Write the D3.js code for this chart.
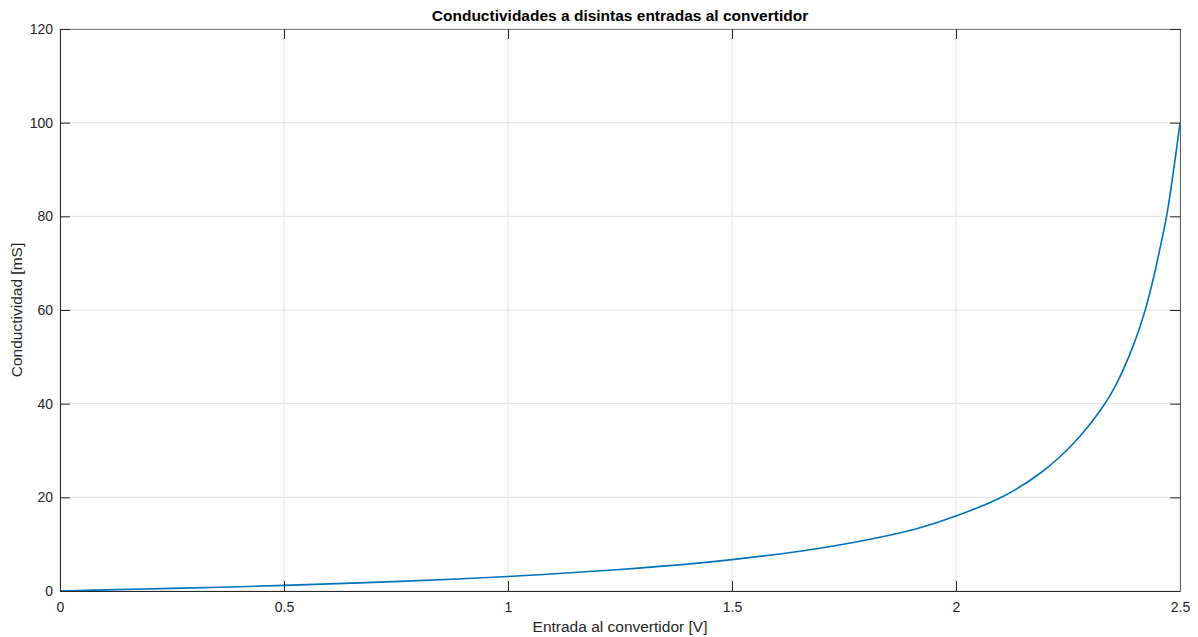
<!DOCTYPE html>
<html>
<head>
<meta charset="utf-8">
<script src="https://cdn.jsdelivr.net/npm/d3@7"></script>
<style>
  html, body { margin: 0; padding: 0; background: #fff; }
  svg { display: block; font-family: "Liberation Sans", Arial, Helvetica, sans-serif; }
</style>
</head>
<body>
<svg id="chart" width="1198" height="637"></svg>
<script>
// Converter input voltage [V] and measured conductivity [mS]
const entrada = [0, 0.164, 0.357, 0.5, 0.744, 1.0, 1.25, 1.43, 1.5, 1.652, 1.8, 1.912, 2.0, 2.109, 2.19, 2.262, 2.329, 2.357, 2.396, 2.422, 2.44, 2.455, 2.47, 2.48, 2.49, 2.5];
const conductividad = [0, 0.38, 0.8, 1.2, 2.0, 3.1, 4.6, 6.0, 6.7, 8.5, 10.9, 13.3, 16.0, 20.4, 25.3, 31.5, 39.5, 44.0, 52.5, 59.9, 66.5, 73.0, 80.0, 86.0, 92.8, 100.0];

const xTicks = [0, 0.5, 1, 1.5, 2, 2.5];
const yTicks = [0, 20, 40, 60, 80, 100, 120];

const titulo = "Conductividades a disintas entradas al convertidor";
const etiquetaX = "Entrada al convertidor [V]";
const etiquetaY = "Conductividad [mS]";

const svg = d3.select("#chart");
const margin = { left: 60, right: 18, top: 29, bottom: 46 };
const W = 1198, H = 637;

const x = d3.scaleLinear().domain([0, 2.5]).range([margin.left, W - margin.right]);
const y = d3.scaleLinear().domain([0, 120]).range([H - margin.bottom, margin.top]);

const axisColor = "#262626";
const tickLen = 10;

// grid
svg.append("g").selectAll("line").data(xTicks).join("line")
  .attr("x1", d => x(d)).attr("x2", d => x(d))
  .attr("y1", y(0)).attr("y2", y(120))
  .attr("stroke", "#dfdfdf").attr("stroke-width", 1);
svg.append("g").selectAll("line").data(yTicks).join("line")
  .attr("x1", x(0)).attr("x2", x(2.5))
  .attr("y1", d => y(d)).attr("y2", d => y(d))
  .attr("stroke", "#dfdfdf").attr("stroke-width", 1);

// data line
const line = d3.line()
  .x((d, i) => x(entrada[i]))
  .y(d => y(d))
  .curve(d3.curveCatmullRom.alpha(0.5));
svg.append("path")
  .datum(conductividad)
  .attr("d", line)
  .attr("fill", "none")
  .attr("stroke", "#0072BD")
  .attr("stroke-width", 1.6);

// axes with inward ticks on all four sides
const axBottom = svg.append("g").attr("transform", `translate(0,${y(0)})`)
  .call(d3.axisBottom(x).tickValues(xTicks).tickSizeInner(-tickLen).tickSizeOuter(0).tickPadding(11)
    .tickFormat(d3.format("~g")));
const axTop = svg.append("g").attr("transform", `translate(0,${y(120)})`)
  .call(d3.axisTop(x).tickValues(xTicks).tickSizeInner(-tickLen).tickSizeOuter(0).tickFormat(""));
const axLeft = svg.append("g").attr("transform", `translate(${x(0)},0)`)
  .call(d3.axisLeft(y).tickValues(yTicks).tickSizeInner(-tickLen).tickSizeOuter(0).tickPadding(7));
const axRight = svg.append("g").attr("transform", `translate(${x(2.5)},0)`)
  .call(d3.axisRight(y).tickValues(yTicks).tickSizeInner(-tickLen).tickSizeOuter(0).tickFormat(""));

[axBottom, axTop, axLeft, axRight].forEach(g => {
  g.selectAll("path.domain").attr("stroke", axisColor).attr("stroke-width", 1);
  g.selectAll(".tick line").attr("stroke", axisColor).attr("stroke-width", 1);
  g.selectAll(".tick text").attr("fill", axisColor).attr("font-size", 14)
    .attr("font-family", "\"Liberation Sans\", Arial, Helvetica, sans-serif");
});
axTop.selectAll("path.domain").attr("stroke", "#7f7f7f");
axRight.selectAll("path.domain").attr("stroke", "#5f5f5f");

// title
svg.append("text")
  .attr("x", (x(0) + x(2.5)) / 2).attr("y", 21)
  .attr("text-anchor", "middle")
  .attr("font-size", 15.5).attr("font-weight", "bold")
  .attr("fill", "#000")
  .text(titulo);

// axis labels
svg.append("text")
  .attr("x", (x(0) + x(2.5)) / 2).attr("y", 632)
  .attr("text-anchor", "middle")
  .attr("font-size", 15.5).attr("fill", axisColor)
  .text(etiquetaX);
svg.append("text")
  .attr("transform", `translate(22,${(y(0) + y(120)) / 2}) rotate(-90)`)
  .attr("text-anchor", "middle")
  .attr("font-size", 15.5).attr("fill", axisColor)
  .text(etiquetaY);
</script>
</body>
</html>
